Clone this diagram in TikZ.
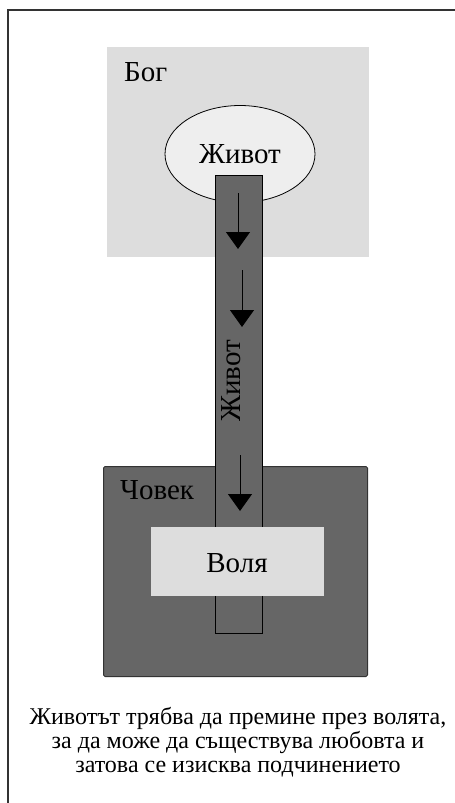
\documentclass[tikz,border=0pt]{standalone}
\usepackage{fontspec}
\setmainfont{Liberation Serif}
\usetikzlibrary{shapes.geometric,arrows.meta,positioning,calc}

\definecolor{lightbox}{HTML}{DDDDDD}
\definecolor{darkbox}{HTML}{666666}
\definecolor{paleoval}{HTML}{EEEEEE}
\definecolor{framegray}{HTML}{333333}

\tikzset{
  area/.style={rectangle, inner sep=0pt, anchor=north west},
  flow/.style={-{Triangle[width=24pt,length=17pt]}, line width=1pt},
  bigtext/.style={font=\fontsize{29}{34}\selectfont, inner sep=0pt}
}

\begin{document}
\begin{tikzpicture}[x=1pt,y=-1pt]
\useasboundingbox (0,0) rectangle (455,803);
% frame, cut off at the right and bottom
\draw[framegray, line width=1.8pt] (8,803) -- (8,10) -- (455,10);

% God
\node[area, fill=lightbox, minimum width=262pt, minimum height=210pt] (god) at (107,47) {};
\node[bigtext, anchor=north west] (godlabel) at (124,62) {Бог};
\node[ellipse, draw, fill=paleoval, line width=0.8pt, minimum width=150pt, minimum height=97pt, inner sep=0pt, bigtext] (life) at (240,154) {Живот};

% Man
\node[area, draw=framegray, fill=darkbox, rounded corners=1.5pt, line width=1pt, minimum width=264pt, minimum height=210pt] (man) at (103,466) {};
\node[bigtext, anchor=north west] (manlabel) at (120,480) {Човек};

% column of life
\node[area, draw, fill=darkbox, line width=1pt, minimum width=47pt, minimum height=458pt] (column) at (215,175) {};
\node[bigtext, rotate=90] (columnlabel) at (231,381) {Живот};

% will
\node[area, fill=lightbox, minimum width=173pt, minimum height=69pt] (will) at (151,527) {};
\node[bigtext] (willlabel) at (237,563) {Воля};

% arrows
\coordinate (a1) at (238,193); \coordinate (b1) at (238,249);
\coordinate (a2) at (242,270); \coordinate (b2) at (242,327);
\coordinate (a3) at (240,455); \coordinate (b3) at (240,511);
\draw[flow] (a1) -- (b1);
\draw[flow] (a2) -- (b2);
\draw[flow] (a3) -- (b3);

% caption
\node[align=center, font=\fontsize{24}{24}\selectfont, inner sep=0pt] (caption) at (238,742)
  {Животът трябва да премине през волята,\\за да може да съществува любовта и\\затова се изисква подчинението};
\end{tikzpicture}
\end{document}
